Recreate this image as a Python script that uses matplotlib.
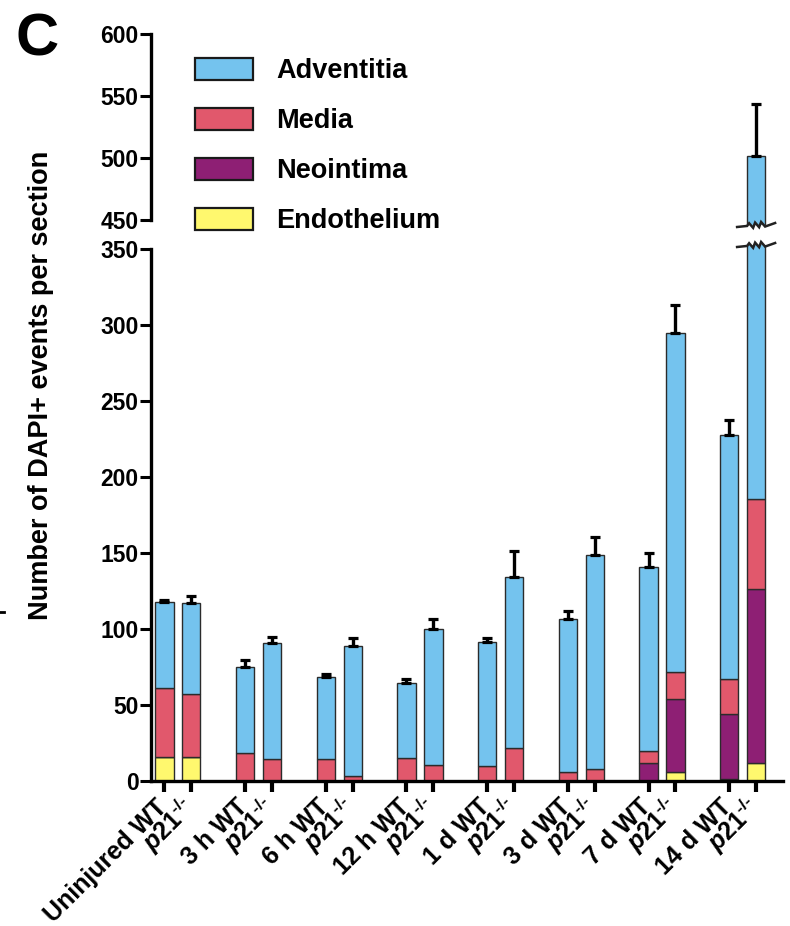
import numpy as np
import matplotlib
matplotlib.use("Agg")
import matplotlib.pyplot as plt
from matplotlib.patches import Rectangle
from matplotlib.lines import Line2D
from matplotlib.transforms import ScaledTranslation

plt.rcParams['font.family'] = ['Liberation Sans', 'DejaVu Sans']
plt.rcParams['font.weight'] = 'bold'
plt.rcParams['mathtext.fontset'] = 'custom'
plt.rcParams['mathtext.rm'] = 'Liberation Sans:bold'
plt.rcParams['mathtext.it'] = 'Liberation Sans:bold:italic'
plt.rcParams['mathtext.bf'] = 'Liberation Sans:bold'

# ---- data -------------------------------------------------------------
groups = ["Uninjured", "3 h", "6 h", "12 h", "1 d", "3 d", "7 d", "14 d"]
genotypes = ["WT", "p21-/-"]
tick_labels = []
for g in groups:
    tick_labels.append(f"{g} WT")
    tick_labels.append(r"$\mathit{p21}^{\text{-/-}}$")

layers = ["Endothelium", "Neointima", "Media", "Adventitia"]
endothelium = [16.0, 15.8, 0, 0, 0, 0, 0, 0, 0, 0, 0, 0, 0, 6.1, 1.5, 12.0]
neointima = [0, 0, 0, 0, 0, 0, 0, 0, 0, 0, 0, 0, 11.6, 47.9, 42.8, 114.1]
media = [45.0, 41.4, 18.2, 14.7, 14.5, 3.0, 15.4, 10.3, 9.9, 21.5, 6.1, 7.9,
         8.1, 17.9, 22.6, 59.2]
adventitia = [56.5, 59.8, 56.6, 76.1, 54.1, 86.0, 48.9, 89.5, 81.3, 112.9,
              100.5, 140.6, 121.3, 222.6, 160.5, 316.3]
sem = [1.3, 4.6, 4.6, 4.0, 1.8, 4.8, 3.0, 6.5, 2.8, 17.0, 5.0, 11.7,
       8.8, 18.8, 10.2, 42.0]

colors = {
    "Adventitia": "#74C3EE",
    "Media": "#E1586C",
    "Neointima": "#8E1F74",
    "Endothelium": "#FFF86E",
}
layer_values = {
    "Endothelium": endothelium,
    "Neointima": neointima,
    "Media": media,
    "Adventitia": adventitia,
}

# bar positions: pairs of genotypes, with a gap between time points
x = np.array([3 * gi + mi for gi in range(len(groups)) for mi in range(len(genotypes))], dtype=float)
totals = np.sum([np.array(layer_values[l]) for l in layers], axis=0)

W, H = 790, 926
fig = plt.figure(figsize=(W / 100, H / 100), dpi=100)

def px_axes(left, top, right, bottom):
    return fig.add_axes([left / W, 1 - bottom / H, (right - left) / W, (bottom - top) / H])

ax_lo = px_axes(151, 245, 783, 781)
ax_hi = px_axes(151, 34, 783, 225)

bar_w = 0.68
edge = "#2b2b2b"
for ax in (ax_lo, ax_hi):
    bottom = np.zeros(len(x))
    for l in layers:
        vals = np.array(layer_values[l])
        ax.bar(x, vals, width=bar_w, bottom=bottom, color=colors[l],
               edgecolor=edge, linewidth=1.0, zorder=2)
        bottom += vals
    ax.errorbar(x, totals, yerr=[np.zeros(len(x)), sem], fmt="none",
                ecolor="black", elinewidth=2.4, capsize=3.4, capthick=2.3, zorder=3)
    ax.set_xlim(-0.5, 23.0)
    for s in ("top", "right"):
        ax.spines[s].set_visible(False)
    ax.spines["left"].set_linewidth(2.4)
    ax.tick_params(axis="y", direction="out", length=8, width=2.2, labelsize=16.5, pad=1)

ax_lo.set_ylim(0, 352.6)
ax_lo.set_yticks(np.arange(0, 351, 50))
ax_lo.spines["left"].set_bounds(0, 350)
ax_lo.spines["bottom"].set_linewidth(2.4)
ax_lo.set_xticks(x)
ax_lo.set_xticklabels(tick_labels, rotation=45, ha="right", va="center",
                      rotation_mode="anchor", fontsize=18, fontweight="bold")
ax_lo.tick_params(axis="x", direction="out", length=8, width=3, pad=8)
shift = ScaledTranslation(-1 / 100, 0, fig.dpi_scale_trans)
for lab in ax_lo.get_xticklabels():
    lab.set_transform(lab.get_transform() + shift)

ax_hi.set_ylim(446, 600.3)
ax_hi.set_yticks(np.arange(450, 601, 50))
ax_hi.spines["left"].set_bounds(450, 600)
ax_hi.spines["bottom"].set_visible(False)
ax_hi.set_xticks([])

for lab in ax_lo.get_yticklabels() + ax_hi.get_yticklabels():
    lab.set_fontsize(16.5)
    lab.set_fontweight("bold")

# break marks on the truncated bar
fig.canvas.draw()
def zigzag(ax, xv, yv):
    cx, cy = ax.transData.transform((xv, yv))
    dx = np.array([-19, -9, -7, -3, -1, 3, 5, 9, 19], dtype=float)
    base = dx * (4.0 / 38.0)
    teeth = np.array([0, 0, 2.5, -2.5, 2.5, -2.5, 2.5, -2.5, 0])
    pts = np.column_stack([cx + dx, cy + base + teeth])
    fpts = fig.transFigure.inverted().transform(pts)
    fig.add_artist(Line2D(fpts[:, 0], fpts[:, 1], color="#222222", lw=1.8,
                          solid_joinstyle="miter"))

zigzag(ax_hi, x[-1], 446.0)
zigzag(ax_lo, x[-1], 352.6)

# y-axis title
fig.text(41 / W, 1 - 385 / H, "Number of DAPI+ events per section", rotation=90,
         ha="center", va="center", fontsize=19.5, fontweight="bold")

# panel letter
fig.text(16 / W, 1 - 13 / H, "C", ha="left", va="top", fontsize=43, fontweight="bold")

# legend
legend_order = ["Adventitia", "Media", "Neointima", "Endothelium"]
for i, name in enumerate(legend_order):
    cy = 69 + 50 * i
    fig.add_artist(Rectangle((195 / W, 1 - (cy + 11) / H), 58 / W, 22 / H,
                             transform=fig.transFigure, facecolor=colors[name],
                             edgecolor="#1a1a1a", linewidth=1.6))
    fig.text(276 / W, 1 - (cy + 2) / H, name, ha="left", va="center",
             fontsize=19.5, fontweight="bold")

# small mark at the left margin
fig.add_artist(Line2D([0 / W, 4 / W], [1 - 612 / H, 1 - 612 / H],
                      color="black", lw=2))

fig.savefig("out.png", dpi=100)
